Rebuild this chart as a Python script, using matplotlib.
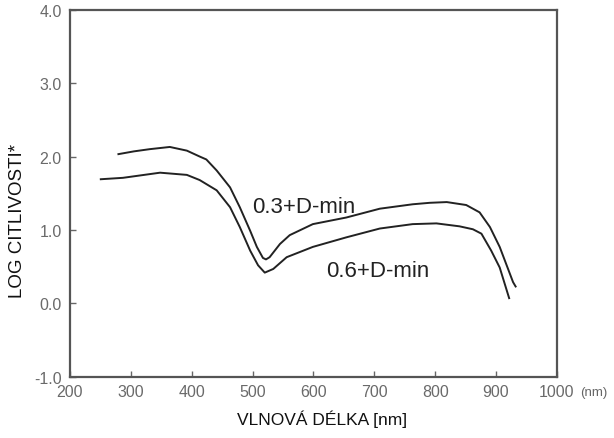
import matplotlib
matplotlib.use("Agg")
import matplotlib.pyplot as plt

plt.rcParams['font.family'] = ['Liberation Sans', 'DejaVu Sans']

# 0.3 + D-min curve
wl_03 = [278, 305, 331, 364, 392, 413, 424, 441, 463, 479, 496, 507, 517, 522, 528, 545, 561, 599, 654, 709, 763, 791, 819, 851, 873, 890, 906, 928, 933]
log_03 = [2.03, 2.07, 2.10, 2.13, 2.08, 2.00, 1.96, 1.81, 1.58, 1.31, 0.99, 0.77, 0.62, 0.60, 0.63, 0.81, 0.93, 1.08, 1.17, 1.29, 1.35, 1.37, 1.38, 1.34, 1.24, 1.04, 0.77, 0.29, 0.22]

# 0.6 + D-min curve
wl_06 = [249, 287, 348, 392, 413, 441, 463, 479, 496, 509, 520, 534, 556, 599, 654, 709, 763, 802, 840, 862, 876, 892, 906, 922]
log_06 = [1.69, 1.71, 1.78, 1.75, 1.68, 1.54, 1.31, 1.04, 0.72, 0.52, 0.42, 0.47, 0.63, 0.77, 0.90, 1.02, 1.08, 1.09, 1.05, 1.01, 0.95, 0.72, 0.49, 0.06]

x_ticks = [200, 300, 400, 500, 600, 700, 800, 900, 1000]
x_tick_labels = ['200', '300', '400', '500', '600', '700', '800', '900', '1000']
y_ticks = [-1.0, 0.0, 1.0, 2.0, 3.0, 4.0]
y_tick_labels = ['-1.0', '0.0', '1.0', '2.0', '3.0', '4.0']

fig = plt.figure(figsize=(6.14, 4.39), dpi=100)
ax = fig.add_axes([0.114, 0.139, 0.793, 0.837])

line_kw = dict(color='#222222', lw=1.4, solid_capstyle='butt', solid_joinstyle='round')
ax.plot(wl_03, log_03, **line_kw)
ax.plot(wl_06, log_06, **line_kw)

ax.text(500, 1.25, '0.3+D-min', fontsize=16, color='#222222', va='baseline', ha='left')
ax.text(621, 0.38, '0.6+D-min', fontsize=16, color='#222222', va='baseline', ha='left')

ax.set_xlim(200, 1000)
ax.set_ylim(-1.0, 4.0)
ax.set_xticks(x_ticks)
ax.set_xticklabels(x_tick_labels)
ax.set_yticks(y_ticks)
ax.set_yticklabels(y_tick_labels)
ax.tick_params(direction='in', length=4, width=1, color='#666666', labelcolor='#6a6a6a', labelsize=11.5)
ax.tick_params(axis='x', pad=5)
ax.tick_params(axis='y', pad=6)
for s in ax.spines.values():
    s.set_color('#555555')
    s.set_linewidth(1.6)

# unit after the last tick label
ax.annotate('(nm)', xy=(1000, 0), xycoords=ax.get_xaxis_transform(),
            xytext=(16.5, -10.8), textcoords='offset points',
            ha='left', va='center', fontsize=9.5, color='#666666')

ax.set_xlabel('VLNOVÁ DÉLKA [nm]', fontsize=12.5, color='#111111')
ax.set_ylabel('LOG CITLIVOSTI*', fontsize=13.5, color='#111111')
ax.xaxis.set_label_coords(0.518, -0.088)
ax.yaxis.set_label_coords(-0.09, 0.428)

fig.savefig('out.png', dpi=100)
